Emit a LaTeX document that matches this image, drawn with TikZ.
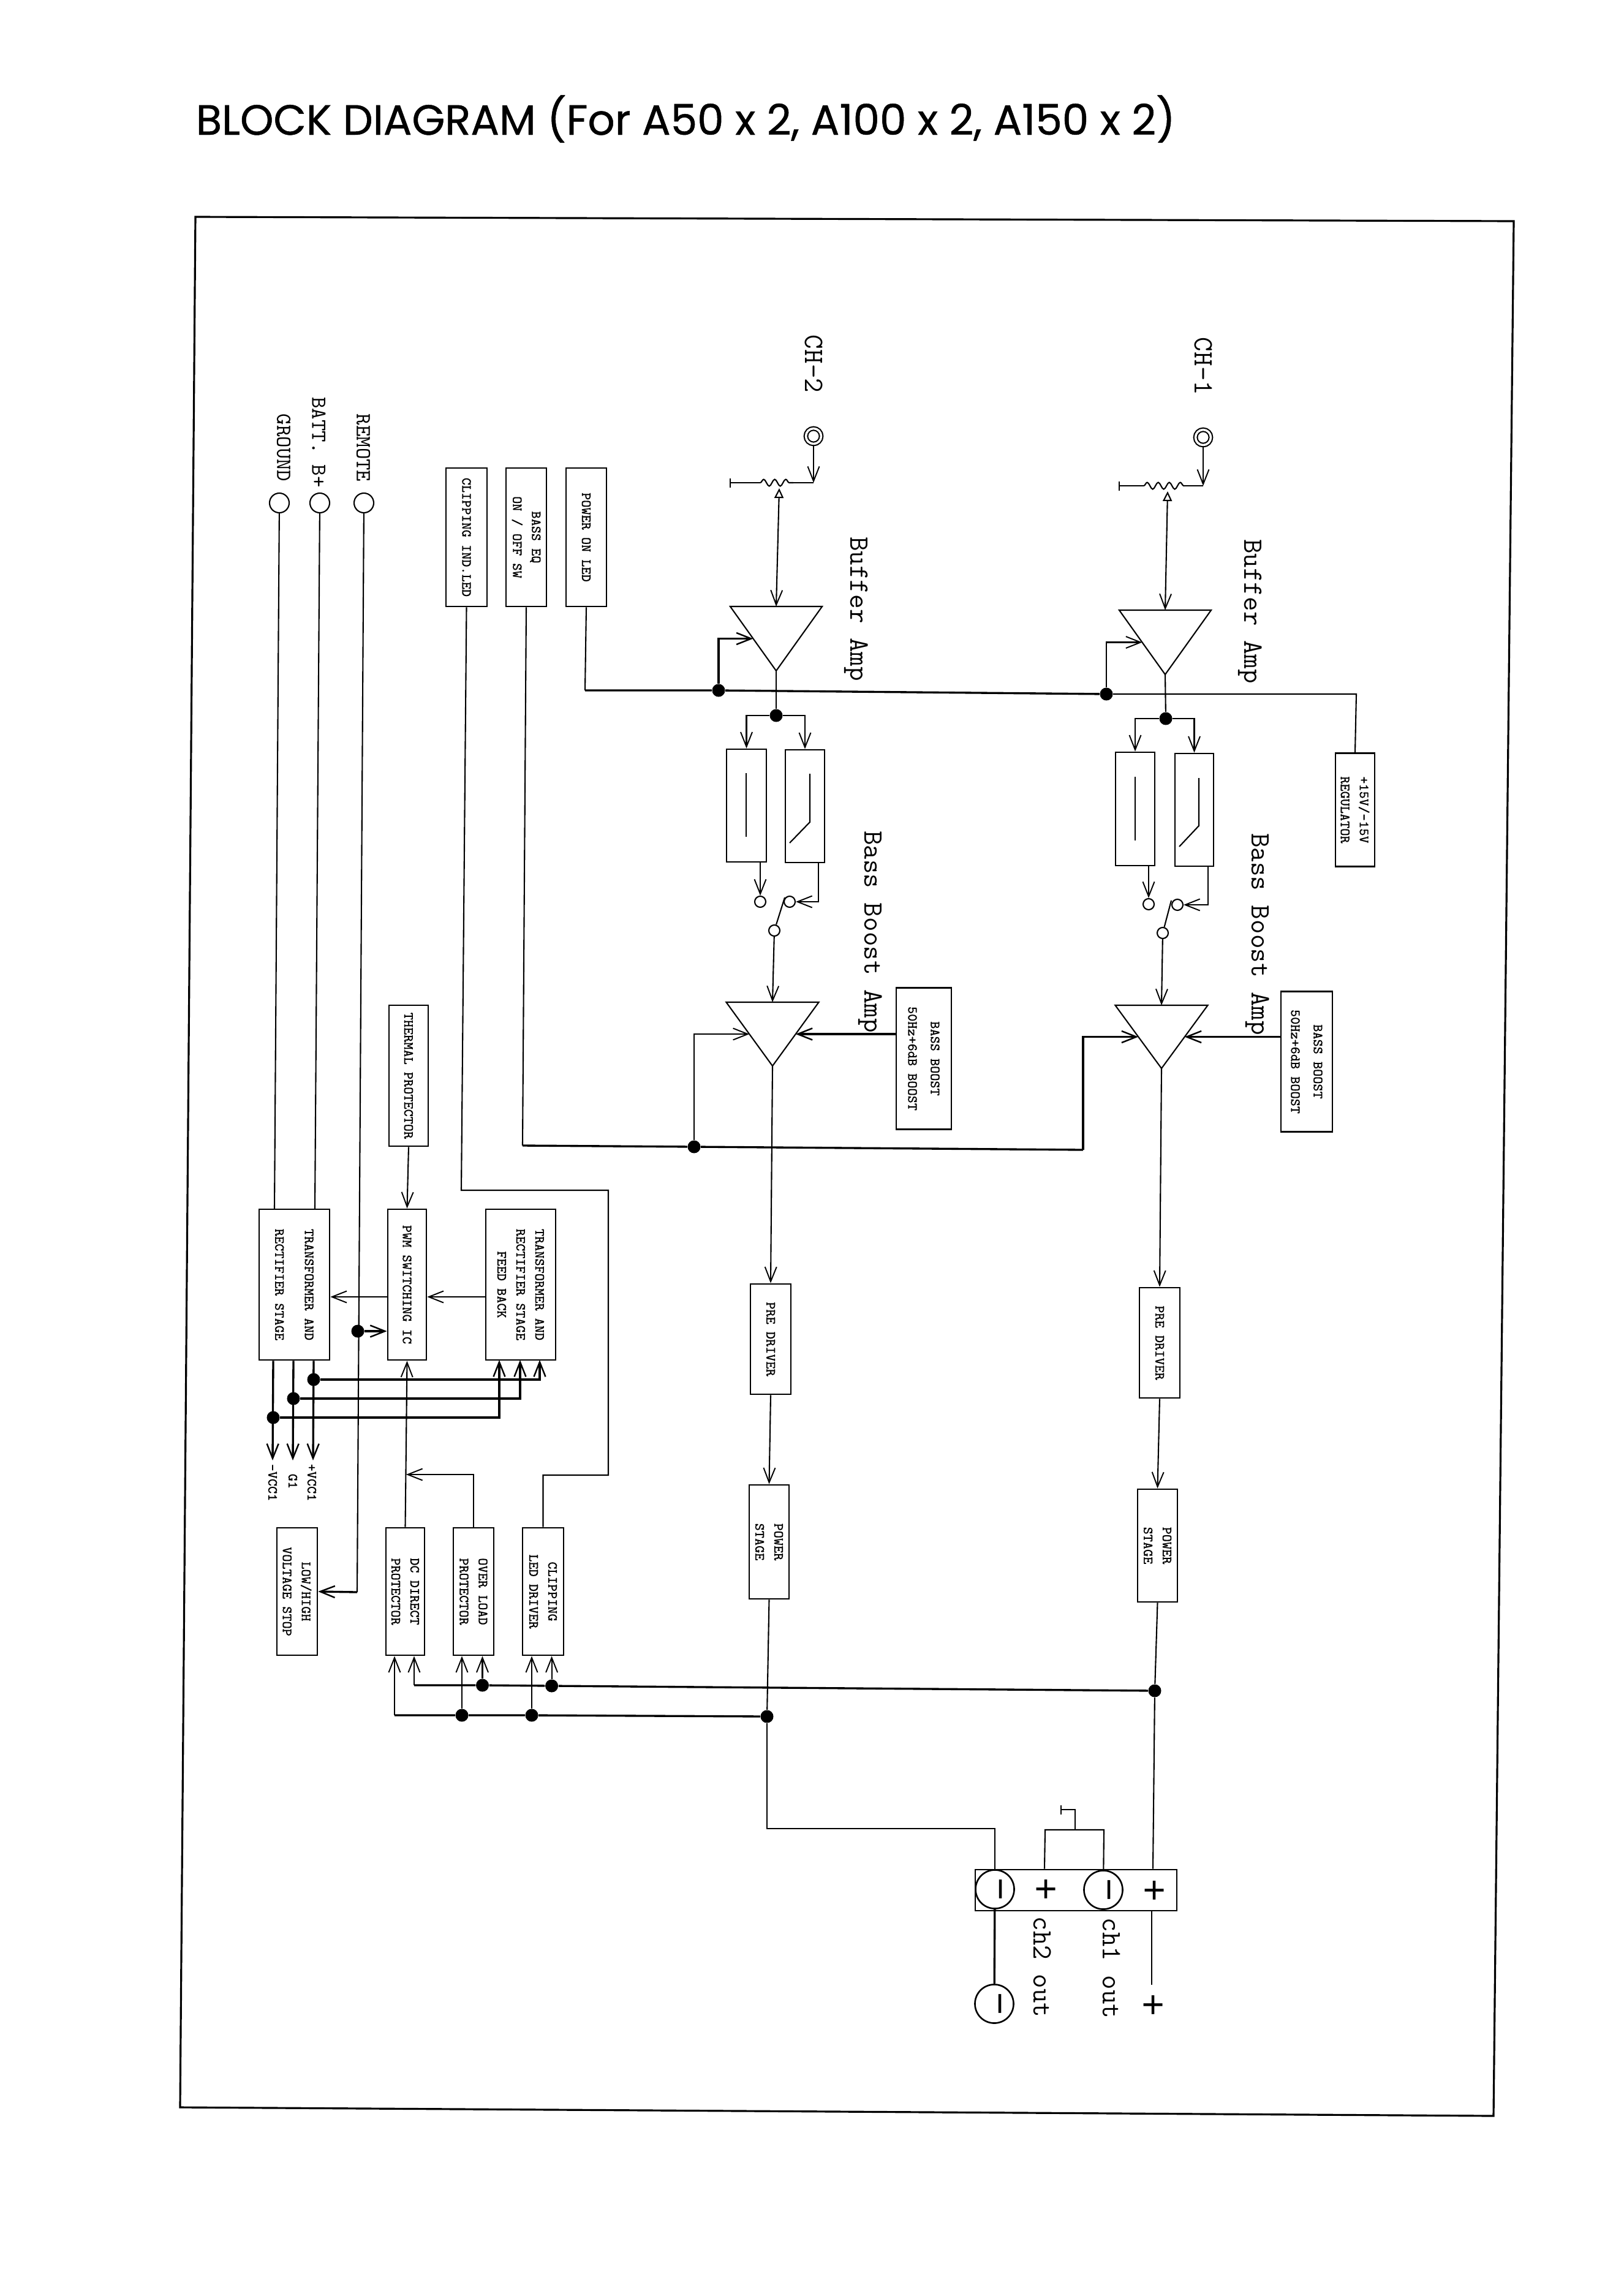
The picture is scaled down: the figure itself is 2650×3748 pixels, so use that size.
\documentclass[tikz,border=0pt]{standalone}
\usepackage{fontspec}
\setmainfont{Liberation Sans}
\newfontfamily\titlefont[FakeBold=0.7]{Poppins}
\newfontfamily\boxfont[FakeBold=0.5]{Latin Modern Mono}
\usetikzlibrary{arrows.meta,shapes.geometric,decorations.pathmorphing}
\begin{document}
\begin{tikzpicture}[
      x=0.01cm, y=-0.01cm,
      box/.style={draw, line width=0.75pt, rotate=-90, inner sep=0pt, align=center, font=\boxfont\fontsize{6.5}{8.8}\selectfont},
      small/.style={rotate=-90, inner sep=0pt, font=\boxfont\fontsize{6.5}{8.8}\selectfont},
      midtext/.style={rotate=-90, inner sep=0pt, font=\ttfamily\fontsize{10}{11}\selectfont},
      bigtext/.style={rotate=-90, inner sep=0pt, font=\ttfamily\fontsize{13}{15}\selectfont},
      wire/.style={line width=0.6pt},
      rail/.style={line width=0.95pt},
      feed/.style={line width=0.6pt, -{Straight Barb[length=0.24cm,width=0.19cm,line width=0.55pt]}},
      railfeed/.style={line width=0.95pt, -{Straight Barb[length=0.24cm,width=0.19cm,line width=0.7pt]}},
      wiper/.style={line width=0.6pt, {Triangle[open,length=0.16cm,width=0.15cm]}-{Straight Barb[length=0.24cm,width=0.19cm,line width=0.55pt]}},
      capped/.style={line width=0.6pt, {Bar[width=0.15cm,line width=0.6pt]}-},
      coil/.style={line width=0.6pt, decorate, decoration={snake, amplitude=0.055cm, segment length=0.18cm}},
      dot/.style={circle, fill=black, inner sep=0pt, minimum size=0.21cm},
      pin/.style={circle, draw, line width=0.6pt, inner sep=0pt, minimum size=0.32cm},
      contact/.style={circle, draw, line width=0.6pt, inner sep=0pt, minimum size=0.18cm},
      jack/.style={circle, draw, line width=0.6pt, double, double distance=0.035cm, inner sep=0pt, minimum size=0.25cm},
      amp/.style={draw, line width=0.6pt, isosceles triangle, isosceles triangle stretches, shape border rotate=-90, inner sep=0pt, outer sep=0pt, anchor=lower side},
      polar/.style={inner sep=0pt, rotate=-90, font=\fontsize{18}{18}\selectfont},
      polering/.style={polar, circle, draw, line width=0.75pt, minimum size=0.63cm}
    ]
      \useasboundingbox (0,0) rectangle (2650,3748);
      \node[font=\titlefont\fontsize{21}{24}\selectfont, inner sep=0pt, anchor=base west] (title) at (319,220) {\resizebox{15.98cm}{!}{BLOCK DIAGRAM (For A50 x 2, A100 x 2, A150 x 2)}};
      \draw[line width=0.9pt] (319,354) -- (2471,361) -- (2438,3454) -- (294,3440) -- cycle;

      \node[midtext] (groundtext) at (463,731) {GROUND};
      \node[midtext] (batttext) at (520.5,722) {BATT. B+};
      \node[midtext] (remotetext) at (593,731) {REMOTE};
      \node[pin] (groundpin) at (456,821) {};
      \node[pin] (battpin) at (522,821) {};
      \node[pin] (remotepin) at (594,821) {};

      \node[box, minimum width=2.26cm, minimum height=0.67cm] (clipind) at (761.5,877) {CLIPPING IND.LED};
      \node[box, minimum width=2.26cm, minimum height=0.66cm] (basseq) at (859,877) {BASS EQ\\ON / OFF SW};
      \node[box, minimum width=2.26cm, minimum height=0.66cm] (powerled) at (957,877) {POWER ON LED};
      \node[box, minimum width=1.85cm, minimum height=0.64cm] (regulator) at (2212,1322) {+15V/-15V\\REGULATOR};

      \node[bigtext] (chtwotext) at (1328,594) {CH-2};
      \node[bigtext] (chonetext) at (1964,598) {CH-1};
      \node[jack] (jacktwo) at (1328,712) {};
      \node[jack] (jackone) at (1964,714) {};
      \node[bigtext] (buftwotext) at (1398,994) {Buffer Amp};
      \node[bigtext] (bufonetext) at (2041,998) {Buffer Amp};
      \node[bigtext] (boosttwotext) at (1421,1521) {Bass Boost Amp};
      \node[bigtext] (boostonetext) at (2053,1525) {Bass Boost Amp};

      \coordinate (pottwoleft) at (1191,788);
      \coordinate (pottwoa) at (1241,788);
      \coordinate (pottwob) at (1295,788);
      \coordinate (pottworight) at (1328,788);
      \coordinate (pottwowiper) at (1272,797);
      \coordinate (potoneleft) at (1826,793);
      \coordinate (potonea) at (1867,793);
      \coordinate (potoneb) at (1933,793);
      \coordinate (potoneright) at (1964,793);
      \coordinate (potonewiper) at (1906,802);
      \draw[capped] (pottwoleft) -- (pottwoa);
      \draw[coil] (pottwoa) -- (pottwob);
      \draw[wire] (pottwob) -- (pottworight);
      \draw[capped] (potoneleft) -- (potonea);
      \draw[coil] (potonea) -- (potoneb);
      \draw[wire] (potoneb) -- (potoneright);
      \draw[feed] (jacktwo) -- (pottworight);
      \draw[feed] (jackone) -- (potoneright);

      \node[amp, minimum width=1.5cm, minimum height=1.05cm] (buftwo) at (1267,990) {};
      \node[amp, minimum width=1.5cm, minimum height=1.05cm] (bufone) at (1902,996) {};
      \node[amp, minimum width=1.51cm, minimum height=1.04cm] (boosttwo) at (1261,1636) {};
      \node[amp, minimum width=1.51cm, minimum height=1.03cm] (boostone) at (1896,1641) {};
      \draw[wiper] (pottwowiper) -- (buftwo.lower side);
      \draw[wiper] (potonewiper) -- (bufone.lower side);

      \node[dot] (railtwo) at (1173,1127) {};
      \node[dot] (railone) at (1806,1133) {};
      \coordinate (railstart) at (955,1127);
      \coordinate (railend) at (2214,1133);
      \draw[wire] (powerled.east) -- (railstart);
      \draw[rail] (railstart) -- (railtwo) -- (railone);
      \draw[wire] (railone) -- (railend) -- (regulator.west);
      \draw[railfeed] (railtwo) |- (buftwo.right side);
      \draw[feed] (railone) |- (bufone.right side);

      \node[dot] (splittwo) at (1267,1168) {};
      \node[dot] (splitone) at (1903,1173) {};
      \draw[wire] (buftwo.apex) -- (splittwo);
      \draw[wire] (bufone.apex) -- (splitone);

      \node[box, minimum width=1.84cm, minimum height=0.65cm] (flattwo) at (1218.5,1315) {};
      \node[box, minimum width=1.84cm, minimum height=0.64cm] (shelftwo) at (1314,1316) {};
      \node[box, minimum width=1.85cm, minimum height=0.64cm] (flatone) at (1853,1320.5) {};
      \node[box, minimum width=1.84cm, minimum height=0.63cm] (shelfone) at (1949.5,1322) {};
      \draw[feed] (splittwo) -| (flattwo.west);
      \draw[feed] (splittwo) -| (shelftwo.west);
      \draw[feed] (splitone) -| (flatone.west);
      \draw[feed] (splitone) -| (shelfone.west);
      \draw[wire] (1218,1262) -- (1218,1366);
      \draw[wire] (1322,1263) -- (1322,1342) -- (1289,1376);
      \draw[wire] (1853,1268) -- (1853,1372);
      \draw[wire] (1957,1270) -- (1957,1348) -- (1925,1382);

      \node[contact] (contflattwo) at (1241,1472) {};
      \node[contact] (contshelftwo) at (1289,1472) {};
      \node[contact] (contpivottwo) at (1264,1519) {};
      \node[contact] (contflatone) at (1875,1476) {};
      \node[contact] (contshelfone) at (1922,1477) {};
      \node[contact] (contpivotone) at (1898,1523) {};
      \coordinate (shelftwoout) at (1336,1408);
      \coordinate (shelfoneout) at (1972,1414);
      \coordinate (bladetwo) at (1281,1465);
      \coordinate (bladeone) at (1912,1470);
      \draw[feed] (flattwo.east -| contflattwo) -- (contflattwo);
      \draw[feed] (flatone.east -| contflatone) -- (contflatone);
      \draw[feed] (shelftwoout) |- (contshelftwo);
      \draw[feed] (shelfoneout) |- (contshelfone);
      \draw[wire] (contpivottwo) -- (bladetwo);
      \draw[wire] (contpivotone) -- (bladeone);
      \draw[feed] (contpivottwo) -- (boosttwo.lower side);
      \draw[feed] (contpivotone) -- (boostone.lower side);

      \node[box, minimum width=2.31cm, minimum height=0.9cm] (bbtwo) at (1508,1728) {BASS BOOST\\[1.7pt]50Hz+6dB BOOST};
      \node[box, minimum width=2.29cm, minimum height=0.84cm] (bbone) at (2133,1733) {BASS BOOST\\[1.7pt]50Hz+6dB BOOST};
      \draw[railfeed] (boosttwo.left side -| bbtwo.south) -- (boosttwo.left side);
      \draw[railfeed] (boostone.left side -| bbone.south) -- (boostone.left side);

      \node[dot] (bassdot) at (1133,1872) {};
      \coordinate (bassbend) at (853,1870);
      \coordinate (bassright) at (1768,1877);
      \draw[wire] (basseq.east) -- (bassbend);
      \draw[rail] (bassbend) -- (bassdot) -- (bassright);
      \draw[feed] (bassdot) |- (boosttwo.right side);
      \draw[railfeed] (bassright) |- (boostone.right side);

      \node[box, minimum width=1.8cm, minimum height=0.66cm] (pretwo) at (1258,2186) {PRE DRIVER};
      \node[box, minimum width=1.86cm, minimum height=0.65cm] (powtwo) at (1255.5,2517) {POWER\\STAGE};
      \node[box, minimum width=1.8cm, minimum height=0.66cm] (preone) at (1893,2192) {PRE DRIVER};
      \node[box, minimum width=1.84cm, minimum height=0.65cm] (powone) at (1889.5,2523) {POWER\\STAGE};
      \draw[feed] (boosttwo.apex) -- (pretwo.west);
      \draw[feed] (boostone.apex) -- (preone.west);
      \draw[feed] (pretwo.east) -- (powtwo.west);
      \draw[feed] (preone.east) -- (powone.west);

      \node[box, minimum width=2.3cm, minimum height=0.64cm] (thermal) at (667,1756) {THERMAL PROTECTOR};
      \node[box, minimum width=2.46cm, minimum height=1.15cm] (trafo) at (480.5,2097) {TRANSFORMER AND\\[5pt]RECTIFIER STAGE};
      \node[box, minimum width=2.46cm, minimum height=0.63cm] (pwm) at (664.5,2097) {PWM SWITCHING IC};
      \node[box, minimum width=2.46cm, minimum height=1.14cm] (fback) at (850,2097) {TRANSFORMER AND\\RECTIFIER STAGE\\FEED BACK};
      \coordinate (trafognd) at (448,1974);
      \coordinate (trafobatt) at (514,1974);
      \draw[wire] (groundpin) -- (trafognd);
      \draw[wire] (battpin) -- (trafobatt);
      \draw[feed] (thermal.east) -- (pwm.west);
      \coordinate (pwmout) at (633,2117);
      \coordinate (fbackout) at (793,2117);
      \draw[feed] (pwmout) -- (trafo.north |- pwmout);
      \draw[feed] (fbackout) -- (pwm.north |- fbackout);

      \node[box, minimum width=2.08cm, minimum height=0.66cm] (lowhigh) at (485,2598) {LOW/HIGH\\VOLTAGE STOP};
      \node[box, minimum width=2.08cm, minimum height=0.63cm] (dcprot) at (661.5,2598) {DC DIRECT\\PROTECTOR};
      \node[box, minimum width=2.08cm, minimum height=0.66cm] (olprot) at (773,2598) {OVER LOAD\\PROTECTOR};
      \node[box, minimum width=2.08cm, minimum height=0.67cm] (clipdrv) at (886.5,2598) {CLIPPING\\LED DRIVER};
      \node[dot] (remotedot) at (584,2173) {};
      \coordinate (remotebend) at (583,2599);
      \draw[wire] (remotepin) -- (remotebend);
      \draw[railfeed] (remotebend) -- (lowhigh.north);
      \draw[railfeed] (remotedot) -- (pwm.south |- remotedot);

      \node[dot] (vccpdot) at (512,2252) {};
      \node[dot] (gnddot) at (479,2283) {};
      \node[dot] (vccndot) at (446,2314) {};
      \coordinate (vccpend) at (511,2384);
      \coordinate (gndend) at (478,2384);
      \coordinate (vccnend) at (445,2384);
      \draw[railfeed] (trafo.east -| vccpdot) -- (vccpend);
      \draw[railfeed] (trafo.east -| gnddot) -- (gndend);
      \draw[railfeed] (trafo.east -| vccndot) -- (vccnend);
      \node[small] (vccptext) at (509,2420) {+VCC1};
      \node[small] (gndtext) at (478,2418) {G1};
      \node[small] (vccntext) at (445,2420) {-VCC1};
      \coordinate (fbackp) at (881,2220);
      \coordinate (fbackg) at (849,2220);
      \coordinate (fbackn) at (815,2220);
      \draw[railfeed] (vccpdot) -| (fbackp);
      \draw[railfeed] (gnddot) -| (fbackg);
      \draw[railfeed] (vccndot) -| (fbackn);

      \coordinate (oljoin) at (663,2407);
      \draw[feed] (dcprot.west) -- (pwm.east);
      \draw[feed] (olprot.west) |- (oljoin);
      \coordinate (clipa) at (993,2408);
      \coordinate (clipb) at (993,1943);
      \coordinate (clipc) at (753,1943);
      \draw[wire] (clipdrv.west) |- (clipa) -- (clipb) -- (clipc) -- (clipind.east);

      \node[dot] (outtwo) at (1252,2802) {};
      \node[dot] (outone) at (1885,2760) {};
      \node[dot] (sensea) at (787.5,2751) {};
      \node[dot] (senseb) at (900.6,2752) {};
      \node[dot] (sensec) at (754,2800) {};
      \node[dot] (sensed) at (868,2800) {};
      \coordinate (senseaend) at (676,2751);
      \coordinate (sensecend) at (644,2800);
      \draw[rail] (senseaend) -- (sensea) -- (senseb) -- (outone);
      \draw[rail] (sensecend) -- (sensec) -- (sensed) -- (outtwo);
      \draw[feed] (senseaend) -- (dcprot.east -| senseaend);
      \draw[feed] (sensecend) -- (dcprot.east -| sensecend);
      \draw[feed] (sensea) -- (olprot.east -| sensea);
      \draw[feed] (sensec) -- (olprot.east -| sensec);
      \draw[feed] (senseb) -- (clipdrv.east -| senseb);
      \draw[feed] (sensed) -- (clipdrv.east -| sensed);
      \draw[wire] (powtwo.east) -- (outtwo);
      \draw[wire] (powone.east) -- (outone);

      \node[draw, line width=0.75pt, minimum width=3.29cm, minimum height=0.67cm, inner sep=0pt] (termbar) at (1756.5,3085.5) {};
      \node[polering] (termtwominus) at (1624,3084) {−};
      \node[polar] (termtwoplus) at (1705,3084) {+};
      \node[polering] (termoneminus) at (1801,3085) {−};
      \node[polar] (termoneplus) at (1882,3086) {+};
      \node[polering] (lowminus) at (1623,3271) {−};
      \node[polar] (lowplus) at (1880,3273) {+};
      \coordinate (outtwobend) at (1624,2985);
      \coordinate (jumpleft) at (1706,2987);
      \coordinate (jumpright) at (1802,2987);
      \coordinate (jumpmid) at (1755,2987);
      \coordinate (stubend) at (1731,2954);
      \draw[wire] (outtwo) |- (outtwobend) -- (termtwominus);
      \draw[wire] (termbar.north -| termtwoplus) -- (jumpleft) -- (jumpright) -- (termoneminus);
      \draw[capped] (stubend) -| (jumpmid);
      \draw[wire] (outone) -- (termbar.north -| termoneplus);
      \draw[rail] (termtwominus) -- (lowminus);
      \draw[wire, shorten >=0.14cm] (termbar.south -| lowplus) -- (lowplus);
      \node[bigtext] (outtwotext) at (1702,3211) {ch2 out};
      \node[bigtext] (outonetext) at (1815,3213) {ch1 out};
    \end{tikzpicture}
\end{document}
